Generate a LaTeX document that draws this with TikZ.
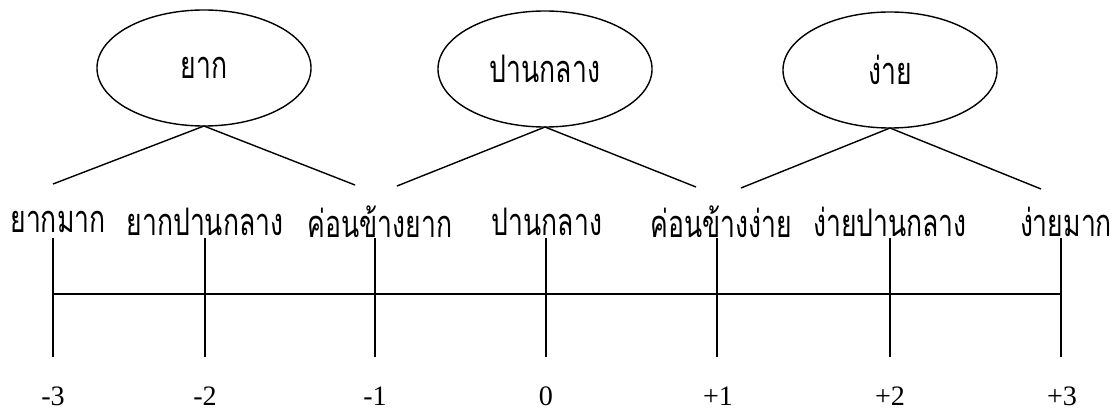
\documentclass[tikz,border=0pt]{standalone}
\usepackage{fontspec}
\setmainfont{Liberation Serif}
\newfontfamily\thaifont[Script=Thai,FakeStretch=0.7]{Loma}
\usetikzlibrary{shapes.geometric}
\begin{document}
\begin{tikzpicture}[x=0.025cm,y=-0.025cm,line width=1pt,every node/.style={inner sep=0pt, outer sep=0pt},
  group/.style={draw,ellipse,minimum width=5.35cm,minimum height=2.9cm,font=\thaifont\fontsize{27}{30}\selectfont},
  level/.style={font=\thaifont\fontsize{27}{30}\selectfont},
  score/.style={font=\fontsize{20}{24}\selectfont}]
\useasboundingbox (0,0) rectangle (1117,413);
\node[group] (hard) at (204,68) {ยาก};
\node[group] (mid) at (545,69) {ปานกลาง};
\node[group] (easy) at (890,70) {ง่าย};
\coordinate (hard-l) at (53,184);
\coordinate (hard-r) at (355,185);
\coordinate (mid-l) at (397,186);
\coordinate (mid-r) at (696,187);
\coordinate (easy-l) at (741,188);
\coordinate (easy-r) at (1041,189);
\draw (hard-l) -- (hard.south) -- (hard-r);
\draw (mid-l) -- (mid.south) -- (mid-r);
\draw (easy-l) -- (easy.south) -- (easy-r);
\node[level] (l1) at (58,222) {ยากมาก};
\node[level] (l2) at (205,222) {ยากปานกลาง};
\node[level] (l3) at (380,222) {ค่อนข้างยาก};
\node[level] (l4) at (547,222) {ปานกลาง};
\node[level] (l5) at (721,222) {ค่อนข้างง่าย};
\node[level] (l6) at (890,222) {ง่ายปานกลาง};
\node[level] (l7) at (1066,222) {ง่ายมาก};
\coordinate (t1) at (53,238); \coordinate (b1) at (53,357);
\coordinate (t2) at (205,238); \coordinate (b2) at (205,357);
\coordinate (t3) at (375,238); \coordinate (b3) at (375,357);
\coordinate (t4) at (546,238); \coordinate (b4) at (546,357);
\coordinate (t5) at (717,238); \coordinate (b5) at (717,357);
\coordinate (t6) at (890,238); \coordinate (b6) at (890,357);
\coordinate (t7) at (1061,238); \coordinate (b7) at (1061,357);
\draw (t1) -- (b1); \draw (t2) -- (b2); \draw (t3) -- (b3); \draw (t4) -- (b4);
\draw (t5) -- (b5); \draw (t6) -- (b6); \draw (t7) -- (b7);
\coordinate (a1) at (53,294);
\coordinate (a7) at (1061,294);
\draw (a1) -- (a7);
\node[score] (s1) at (53,396) {-3};
\node[score] (s2) at (205,396) {-2};
\node[score] (s3) at (375,396) {-1};
\node[score] (s4) at (546,396) {0};
\node[score] (s5) at (718,396) {+1};
\node[score] (s6) at (890,396) {+2};
\node[score] (s7) at (1062,396) {+3};
\end{tikzpicture}
\end{document}
